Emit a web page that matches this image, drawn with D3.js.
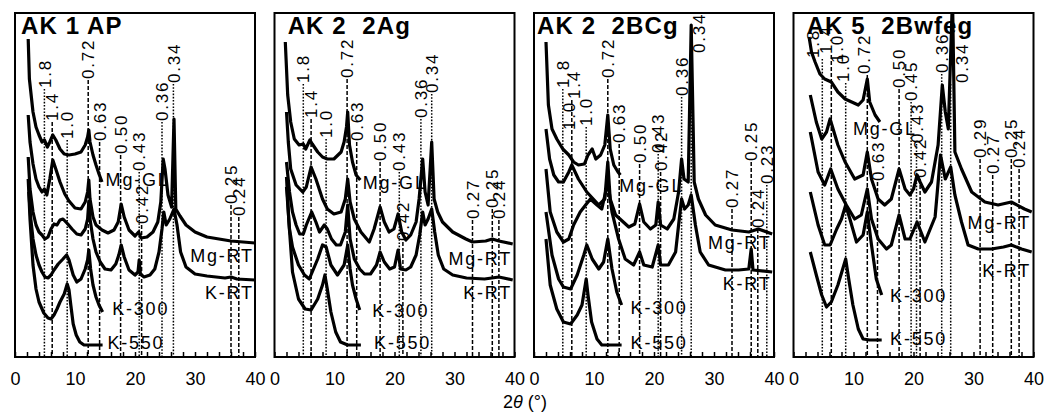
<!DOCTYPE html>
<html><head><meta charset="utf-8">
<script src="https://cdn.jsdelivr.net/npm/d3@7"></script>
<style>
html,body{margin:0;padding:0;background:#fff;}
svg{display:block;font-family:"Liberation Sans",Arial,Helvetica,sans-serif;}
</style></head><body>
<svg id="chart" width="1045" height="419"></svg>
<script>
// ---- sample horizons and treatments ----
const panelTitles = ["AK 1 AP", "AK 2  2Ag", "AK 2  2BCg", "AK 5  2Bwfeg"];
const treatments = ["Mg-GL", "Mg-RT", "K-RT", "K-300", "K-550"];
const xTicks = [0, 10, 20, 30, 40];
const xMinorTicks = [2,4,6,8,12,14,16,18,22,24,26,28,32,34,36,38];

// ---- diffractograms: [2θ (°), stacked intensity] ----
// AK 1 AP
const ak1MgGL = [[2.2,318],[2.4,278],[3.0,245],[3.5,230],[4.0,222],[4.5,215],[4.9,217],[5.4,210],[5.8,215],[6.3,222],[6.8,217],[7.5,208],[8.2,203],[9.0,202],[10.0,203],[11.0,205],[11.7,212],[12.1,220],[12.3,227],[12.5,215],[13.0,202],[13.5,192],[14.0,183],[14.5,175]];
const ak1MgRT = [[2.2,242],[2.5,215],[3.0,193],[3.5,178],[4.0,170],[4.5,165],[4.9,168],[5.3,162],[5.8,178],[6.3,197],[6.8,188],[7.5,175],[8.3,163],[9.0,156],[10.0,149],[11.0,148],[11.7,155],[12.1,165],[12.3,177],[12.5,158],[13.0,140],[13.5,132],[14.5,127],[15.5,124],[16.5,127],[17.2,135],[17.7,153],[18.2,140],[19.0,127],[20.0,121],[20.6,125],[21.0,119],[22.0,120],[23.0,125],[23.8,135],[24.3,155],[24.7,198],[25.0,188],[25.5,162],[26.1,150],[26.5,238],[26.8,148],[27.5,141],[28.5,132],[30.0,125],[32.0,120],[34.0,118],[36.0,116],[38.0,115],[40.0,114]];
const ak1KRT = [[2.2,200],[2.5,168],[3.0,145],[3.5,132],[4.0,125],[4.5,122],[5.0,118],[5.5,120],[6.0,128],[6.5,133],[7.0,132],[7.5,137],[8.0,138],[8.8,133],[9.5,128],[10.3,123],[11.0,122],[11.7,128],[12.1,138],[12.3,155],[12.5,138],[13.0,118],[13.5,105],[14.2,95],[15.0,88],[16.0,87],[16.8,93],[17.3,102],[17.7,112],[18.2,100],[19.0,87],[20.0,82],[20.5,85],[20.7,97],[20.9,83],[21.5,80],[22.5,82],[23.3,88],[24.0,105],[24.5,128],[24.8,145],[25.2,132],[25.8,138],[26.5,148],[27.0,132],[27.6,105],[28.5,90],[30.0,83],[32.0,81],[35.0,79],[36.0,80],[37.0,78],[40.0,77]];
const ak1K300 = [[2.3,165],[2.6,140],[3.0,118],[3.5,102],[4.0,92],[4.5,85],[5.0,80],[5.5,79],[6.0,82],[6.5,87],[7.2,93],[8.0,98],[8.6,102],[9.0,97],[9.7,82],[10.3,75],[11.0,78],[11.7,88],[12.1,97],[12.3,107],[12.6,88],[13.0,72],[13.5,60],[14.0,52],[14.6,45]];
const ak1K550 = [[2.2,178],[2.5,138],[3.0,92],[3.5,68],[4.0,55],[4.8,44],[5.5,39],[6.0,38],[6.5,42],[7.0,48],[7.5,55],[8.2,63],[8.7,73],[9.0,67],[9.3,52],[9.7,33],[10.2,22],[10.8,15],[11.5,12],[12.5,12],[13.5,12],[14.6,12]];

// AK 2 2Ag
const ak2aMgGL = [[1.8,315],[2.2,262],[2.7,235],[3.3,218],[4.1,212],[4.8,213],[5.2,208],[5.9,217],[6.3,213],[7.2,205],[8.0,200],[8.8,198],[9.9,198],[11.1,205],[11.6,215],[12.0,230],[12.2,245],[12.5,212],[13.0,195],[13.6,182],[14.3,177]];
const ak2aMgRT = [[2.0,245],[2.3,215],[2.7,188],[3.6,172],[4.7,165],[5.3,170],[6.1,190],[6.9,178],[8.0,158],[8.8,148],[9.9,143],[11.1,145],[11.8,158],[12.2,178],[12.6,155],[13.3,138],[14.4,125],[15.8,115],[16.6,128],[17.6,150],[18.3,135],[19.1,125],[19.9,128],[20.6,143],[21.2,125],[21.9,117],[22.7,122],[23.6,135],[24.1,158],[24.7,198],[25.1,165],[25.6,152],[26.2,215],[26.6,158],[27.2,145],[28.0,135],[29.7,125],[31.9,118],[33.0,115],[35.2,116],[36.3,118],[37.4,116],[39.7,113]];
const ak2aKRT = [[2.0,195],[2.5,165],[3.0,145],[3.6,132],[4.2,123],[4.8,123],[5.3,132],[6.2,145],[6.9,135],[7.5,125],[8.3,132],[8.8,128],[9.5,118],[10.3,112],[11.0,112],[11.8,125],[12.2,152],[12.6,118],[13.3,98],[14.2,88],[15.0,83],[16.0,83],[17.0,92],[17.6,105],[18.3,95],[19.2,88],[20.0,90],[20.6,107],[21.0,88],[21.9,87],[22.7,90],[23.6,102],[24.2,122],[24.7,145],[25.1,132],[25.6,138],[26.2,148],[26.7,125],[27.3,102],[28.2,88],[29.7,82],[32.0,79],[35.0,78],[37.4,80],[39.7,77]];
const ak2aK300 = [[2.0,170],[2.5,128],[3.0,110],[4.0,92],[5.0,82],[5.8,78],[6.5,88],[7.2,98],[8.0,112],[8.6,110],[9.4,92],[10.5,82],[11.6,92],[12.2,112],[12.6,88],[13.0,72],[13.6,58],[14.2,47]];
const ak2aK550 = [[2.0,180],[2.4,135],[3.0,85],[4.0,58],[5.1,48],[6.1,47],[7.2,58],[8.0,72],[8.4,82],[8.8,68],[9.4,45],[10.2,25],[11.0,15],[12.2,12],[13.5,12],[14.4,12]];

// AK 2 2BCg
const ak2bMgGL = [[2.0,315],[2.4,252],[3.0,228],[3.8,218],[4.8,208],[5.8,202],[6.6,195],[7.4,192],[8.4,193],[9.0,202],[9.7,208],[10.3,198],[11.1,202],[11.8,212],[12.3,242],[12.7,208],[13.3,192],[14.0,185],[14.4,182]];
const ak2bMgRT = [[2.0,228],[2.6,198],[3.3,182],[4.1,175],[4.9,175],[5.8,185],[6.3,192],[7.4,178],[8.8,165],[10.8,152],[11.8,158],[12.3,195],[12.7,158],[13.6,142],[15.8,130],[16.8,133],[17.6,153],[18.3,135],[19.4,128],[20.3,132],[20.7,155],[21.1,132],[22.2,128],[23.3,138],[24.1,165],[24.6,198],[25.0,178],[25.7,175],[26.2,332],[26.7,175],[27.4,158],[28.6,142],[30.2,132],[33.0,127],[35.8,125],[37.4,128],[39.7,123]];
const ak2bKRT = [[2.0,188],[2.7,145],[3.8,125],[4.9,115],[5.8,118],[6.6,132],[7.7,145],[8.6,152],[9.4,158],[10.5,152],[11.3,148],[12.3,175],[13.0,145],[14.1,118],[15.2,98],[16.6,92],[17.6,105],[18.3,92],[19.7,90],[20.7,112],[21.1,92],[22.4,92],[23.6,105],[24.1,132],[24.6,158],[25.1,148],[25.7,152],[26.2,162],[26.9,132],[27.7,105],[29.1,92],[31.9,87],[34.1,87],[35.8,88],[36.2,108],[36.5,87],[39.7,85]];
const ak2bK300 = [[2.0,145],[3.0,102],[4.1,78],[4.9,70],[6.1,68],[7.2,82],[8.3,102],[8.8,112],[9.7,98],[10.8,88],[11.6,95],[12.3,118],[13.0,88],[13.8,65],[14.6,52]];
const ak2bK550 = [[2.0,118],[2.7,72],[3.8,48],[4.9,35],[6.1,33],[7.2,42],[8.0,52],[8.7,78],[9.0,62],[9.6,35],[10.5,18],[11.3,12],[12.5,12],[14.6,12]];

// AK 5 2Bwfeg
const ak5MgGL = [[2.6,320],[3.0,305],[3.6,295],[4.4,283],[5.2,278],[6.3,275],[7.4,265],[8.6,258],[9.7,255],[10.8,252],[11.6,257],[12.3,278],[12.7,255],[13.6,242],[14.4,235]];
const ak5MgRT = [[2.8,262],[3.8,235],[4.7,218],[5.5,225],[6.1,238],[7.4,212],[8.6,195],[10.2,178],[11.6,182],[12.3,205],[13.0,178],[14.1,158],[15.2,152],[16.3,158],[17.6,188],[18.6,168],[19.4,162],[20.0,168],[20.6,182],[21.1,175],[21.9,165],[23.0,175],[24.1,212],[24.8,272],[25.3,245],[25.8,228],[26.5,360],[26.9,205],[28.0,188],[29.7,165],[31.9,155],[34.1,152],[36.3,155],[38.5,148],[39.7,145]];
const ak5KRT = [[2.8,225],[4.1,185],[5.2,172],[6.2,188],[7.4,168],[8.8,152],[10.2,138],[11.3,142],[12.3,168],[13.0,138],[14.1,118],[15.5,108],[16.3,112],[17.6,142],[18.6,118],[19.4,118],[20.6,135],[21.9,115],[23.6,140],[24.5,202],[25.3,178],[26.2,190],[26.9,162],[28.0,135],[29.1,112],[30.8,108],[33.0,108],[35.0,110],[36.3,112],[38.0,108],[39.7,105]];
const ak5K300 = [[2.8,165],[4.1,132],[5.2,112],[6.1,112],[7.2,128],[8.0,138],[8.7,152],[9.4,138],[10.5,115],[11.6,122],[12.3,145],[13.0,112],[13.8,78],[14.7,62]];
const ak5K550 = [[2.8,105],[3.8,82],[4.7,62],[5.5,50],[6.3,55],[7.4,72],[8.4,92],[8.7,98],[9.2,78],[9.9,52],[10.8,28],[11.6,18],[12.7,17],[14.7,17]];

const traces = [
  [ak1MgGL, ak1MgRT, ak1KRT, ak1K300, ak1K550],
  [ak2aMgGL, ak2aMgRT, ak2aKRT, ak2aK300, ak2aK550],
  [ak2bMgGL, ak2bMgRT, ak2bKRT, ak2bK300, ak2bK550],
  [ak5MgGL, ak5MgRT, ak5KRT, ak5K300, ak5K550]
];

// ---- d-spacing markers (nm): [label, 2θ of line, top of line, 2θ of label] ----
const ak1Peaks = [["1.8",4.9,268],["1.4",6.2,235],["1.0",8.7,217],["0.72",12.2,277],["0.63",14.1,215],["0.50",17.6,202],["0.43",20.7,185],["0.42",21.1,132],["0.36",24.5,235],["0.34",26.4,273],["0.25",36.0,152],["0.24",37.3,140]];
const ak2aPeaks = [["1.8",4.8,273],["1.4",6.1,238],["1.0",8.6,218],["0.72",12.1,278],["0.63",13.7,215],["0.50",17.6,195],["0.43",20.8,185],["0.42",21.4,115],["0.36",24.4,238],["0.34",26.2,263],["0.27",33.0,137],["0.25",36.3,148],["0.24",37.4,137]];
const ak2bPeaks = [["1.8",4.8,268],["1.4",6.3,257,6.6],["1.0",8.7,230],["0.72",12.3,278],["0.63",14.2,213],["0.50",17.6,193],["0.43",20.7,203],["0.42",21.1,185],["0.36",24.6,260],["0.34",26.2,303,27.4],["0.27",33.0,148],["0.25",36.2,195],["0.24",37.3,128],["0.23",38.8,172]];
const ak5Peaks = [["1.8",4.8,298,3.3],["1.4",6.3,302,5.4],["1.0",8.7,274,8.2],["0.72",12.3,282,11.8],["0.63",14.0,175,14.1],["0.50",17.6,268],["0.45",19.6,255],["0.43",20.5,213],["0.42",21.1,178],["0.36",24.7,283],["0.34",26.2,273,28.0],["0.29",31.1,198],["0.27",33.2,182],["0.25",36.3,198],["0.24",37.6,188]];
const peaks = [ak1Peaks, ak2aPeaks, ak2bPeaks, ak5Peaks];
// additional spacing labels printed without a marker line: [label, 2θ, bottom of text]
const extraLabels = [[], [], [["1.0",5.8,227]], [["1.0",7.2,294]]];

// treatment label anchors per panel: [2θ, intensity, anchor]
const ak1Labels = [[15.1,171,"start"],[39.8,95,"end"],[39.8,58,"end"],[16.2,42,"start"],[15.4,8,"start"]];
const ak2aLabels = [[14.7,168,"start"],[39.6,92,"end"],[39.6,58,"end"],[16.3,40,"start"],[16.6,8,"start"]];
const ak2bLabels = [[14.2,165,"start"],[39.6,108,"end"],[39.6,67,"end"],[16.1,43,"start"],[16.1,8,"start"]];
const ak5Labels = [[9.9,222,"start"],[39.6,128,"end"],[39.6,80,"end"],[16.1,55,"start"],[16.1,12,"start"]];
const labelAnchors = [ak1Labels, ak2aLabels, ak2bLabels, ak5Labels];
const titleAt = [1.0, 2.2, 0.5, 2.2];

// ---- layout ----
const svg = d3.select("#chart");
svg.append("rect").attr("width",1045).attr("height",419).attr("fill","#fff");
const plotTop = 13, plotBottom = 357, pw = 240, gap = 259.5, left0 = 15;
const ph = plotBottom - plotTop;
const x = d3.scaleLinear().domain([0,40]).range([0,pw]);
const y = d3.scaleLinear().domain([0,344]).range([ph,0]);
const line = d3.line().x(d => x(d[0])).y(d => y(d[1]));
const dashFor = {"1.8":"1.6,1.6","1.0":"1.6,1.6","0.43":"1.6,1.6","0.36":"1.6,1.6","0.34":"1.6,1.6","0.45":"1.6,1.6","0.23":"1.6,1.6"};

function spacingLabel(g, txt, xPos, yPos) {
  g.append("text").attr("transform",`translate(${xPos},${yPos}) rotate(-90)`)
    .attr("dy","0.36em").attr("font-size",17).attr("letter-spacing",1.8)
    .text(txt);
}

panelTitles.forEach((title, i) => {
  const g = svg.append("g").attr("transform", `translate(${left0 + i*gap},${plotTop})`);
  g.append("clipPath").attr("id","clip"+i).append("rect").attr("width",pw).attr("height",ph);

  // marker lines
  const pk = g.append("g");
  peaks[i].forEach(p => {
    pk.append("line").attr("x1",x(p[1])).attr("x2",x(p[1]))
      .attr("y1",y(p[2])).attr("y2",ph)
      .attr("stroke","#000").attr("stroke-width",1.5)
      .attr("stroke-dasharray", dashFor[p[0]] || "4,2");
  });

  // traces
  const tg = g.append("g").attr("clip-path",`url(#clip${i})`);
  traces[i].forEach(t => {
    tg.append("path").datum(t).attr("d",line)
      .attr("fill","none").attr("stroke","#000")
      .attr("stroke-width",3.2).attr("stroke-linejoin","round");
  });

  // marker labels
  peaks[i].forEach(p => spacingLabel(g, p[0], x(p[3] != null ? p[3] : p[1]), y(p[2]) - 1));
  extraLabels[i].forEach(p => spacingLabel(g, p[0], x(p[1]), y(p[2])));

  // treatment labels
  labelAnchors[i].forEach((a, k) => {
    g.append("text").attr("x",x(a[0])).attr("y",y(a[1]))
      .attr("text-anchor",a[2]).attr("font-size",18).attr("letter-spacing",1.8)
      .text(treatments[k]);
  });

  // title
  g.append("text").attr("x",x(titleAt[i])).attr("y",21)
    .attr("font-size",24).attr("font-weight","bold").attr("letter-spacing",1.1)
    .style("white-space","pre").text(title);

  // frame
  g.append("rect").attr("width",pw).attr("height",ph)
    .attr("fill","none").attr("stroke","#000").attr("stroke-width",2);

  // bottom axis
  const ax = g.append("g").attr("transform",`translate(0,${ph})`)
    .call(d3.axisBottom(x).tickValues(xTicks).tickSize(-5).tickPadding(15).tickFormat(d3.format("d")));
  ax.select(".domain").remove();
  ax.selectAll("text").attr("font-size",18).attr("font-family","Liberation Sans, Arial, sans-serif").attr("fill","#000");
  ax.selectAll("line").attr("stroke-width",1.5);
  const am = g.append("g").attr("transform",`translate(0,${ph})`)
    .call(d3.axisBottom(x).tickValues(xMinorTicks).tickSize(-5).tickFormat(""));
  am.select(".domain").remove();
  am.selectAll("line").attr("stroke-width",1.5);
});

const xl = svg.append("text").attr("x",525).attr("y",408).attr("text-anchor","middle").attr("font-size",18);
xl.append("tspan").text("2");
xl.append("tspan").attr("font-style","italic").text("θ");
xl.append("tspan").text(" (°)");
</script></body></html>
